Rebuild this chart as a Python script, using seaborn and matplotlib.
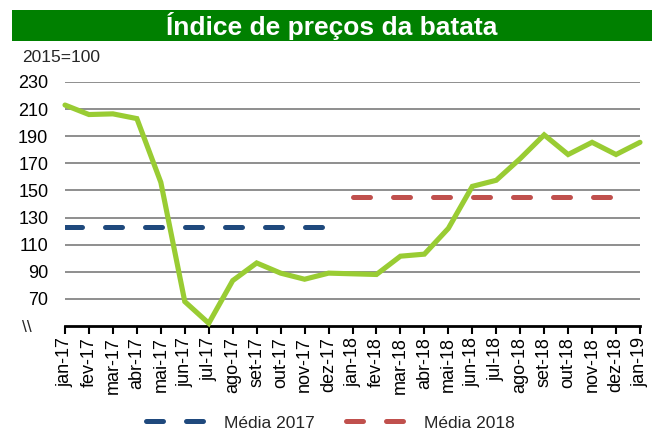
import matplotlib
matplotlib.use("Agg")
import matplotlib.pyplot as plt
from matplotlib.patches import Rectangle
import numpy as np
import pandas as pd
import seaborn as sns

# data
months = ["jan-17", "fev-17", "mar-17", "abr-17", "mai-17", "jun-17", "jul-17",
          "ago-17", "set-17", "out-17", "nov-17", "dez-17",
          "jan-18", "fev-18", "mar-18", "abr-18", "mai-18", "jun-18", "jul-18",
          "ago-18", "set-18", "out-18", "nov-18", "dez-18", "jan-19"]
price_index = [213, 206, 206.5, 203, 156, 68, 52, 83.5, 96.5, 89, 84.5, 89,
               88.5, 88, 101.5, 103, 122, 153, 157.5, 173.5, 191, 176.5, 185.5, 176.5, 185.5]
mean_2017 = 123
mean_2018 = 145

GREEN = "#99CC33"
BLUE = "#1F497D"
RED = "#C0504D"
GRID = "#868686"

sns.set_style("white")
plt.rcParams["font.family"] = ["Liberation Sans", "DejaVu Sans"]

W, H = 657, 433
fig = plt.figure(figsize=(W / 100, H / 100), dpi=100)
ax = fig.add_axes([65 / W, 1 - 326 / H, (640 - 65) / W, (326 - 82) / H])

df = pd.DataFrame({"x": np.arange(len(months)), "v": price_index})
m17 = pd.DataFrame({"x": np.arange(12), "v": [mean_2017] * 12})
m18 = pd.DataFrame({"x": np.arange(12, 24), "v": [mean_2018] * 12})

sns.lineplot(data=df, x="x", y="v", ax=ax, color=GREEN, linewidth=3.7,
             legend=False, zorder=3)
sns.lineplot(data=m17, x="x", y="v", ax=ax, color=BLUE, linewidth=3.6,
             label="Média 2017", zorder=2)
sns.lineplot(data=m18, x="x", y="v", ax=ax, color=RED, linewidth=3.6,
             label="Média 2018", zorder=2)

main_line, l17, l18 = ax.lines[:3]
main_line.set_solid_joinstyle("miter")
main_line.set_clip_on(False)
for ln in (l17, l18):
    ln.set_dashes((3.4, 4.6))
    ln.set_dash_capstyle("round")

ax.set_xlim(0, 24)
ax.set_ylim(50, 230)
ax.set_yticks(range(70, 231, 20))
ax.set_xticks(range(len(months)))
ax.set_xticklabels(months, rotation=90, fontsize=13)
ax.tick_params(axis="y", length=0, pad=12, labelsize=13, labelcolor="black")
ax.tick_params(axis="x", direction="out", length=6, width=1.5, color="black",
               pad=2, labelcolor="black", bottom=True)
ax.set_xlabel("")
ax.set_ylabel("")
ax.grid(axis="y", color=GRID, linewidth=1.3)
ax.grid(axis="x", visible=False)
ax.set_axisbelow(True)
for side in ("top", "left", "right"):
    ax.spines[side].set_visible(False)
ax.spines["bottom"].set_color("black")
ax.spines["bottom"].set_linewidth(2)
ax.spines["bottom"].set_zorder(1)

ax.get_legend().remove()
fig.legend(handles=[l17, l18], labels=["Média 2017", "Média 2018"],
           loc="center", bbox_to_anchor=(330 / W, 1 - 423 / H), ncol=2,
           frameon=False, fontsize=12.5, handlelength=3.3, handletextpad=1.2,
           columnspacing=1.8)

# title bar
fig.patches.append(Rectangle((12 / W, 1 - 41 / H), (652 - 12) / W, 31 / H,
                             transform=fig.transFigure, facecolor="#008000",
                             edgecolor="none", zorder=0))
fig.text(332 / W, 1 - 25.5 / H, "Índice de preços da batata", ha="center",
         va="center", color="white", fontsize=19, fontweight="bold")
fig.text(22 / W, 1 - 58 / H, "2015=100", ha="left", va="center", fontsize=12.5)
fig.text(22 / W, 1 - 327 / H, "\\\\", ha="left", va="center", fontsize=12.5)

fig.savefig("out.png", dpi=100)
